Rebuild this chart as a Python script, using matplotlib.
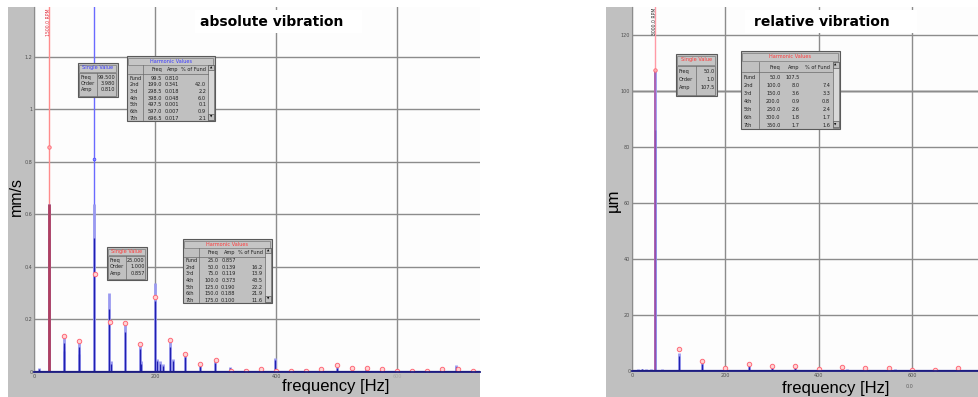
import matplotlib.pyplot as plt
from matplotlib.patches import Rectangle
from matplotlib import font_manager as fm

# ---- data ----
# absolute vibration (mm/s)
abs_peak_freq = [9, 25, 49, 50, 74, 75, 99.5, 124.5, 127, 150, 174.5, 177, 199.5, 203, 208,
                 213, 224.5, 229, 249.5, 274, 299, 324, 348, 398, 448, 500, 525, 548, 600, 674, 697]
abs_peak_amp = [0.015, 0.64, 0.14, 0.10, 0.12, 0.085, 0.64, 0.30, 0.04, 0.19, 0.11, 0.04, 0.34, 0.05,
                0.04, 0.03, 0.12, 0.05, 0.07, 0.03, 0.045, 0.02, 0.01, 0.055, 0.01, 0.02, 0.01, 0.015,
                0.005, 0.01, 0.025]
abs_harm_freq = [50, 75, 100, 125, 150, 175, 200, 225, 250, 275, 300, 325, 350, 375, 400, 425,
                 450, 475, 500, 525, 550, 575, 600, 625, 650, 675, 700, 725]
abs_harm_amp = [0.139, 0.119, 0.373, 0.190, 0.188, 0.107, 0.286, 0.12, 0.07, 0.03, 0.045, 0.005,
                0.005, 0.01, 0.002, 0.002, 0.002, 0.01, 0.027, 0.015, 0.015, 0.01, 0.005, 0.003,
                0.003, 0.01, 0.01, 0.005]
abs_cursor_red = 25.0
abs_cursor_red_amp = 0.857
abs_cursor_blue = 99.5
abs_cursor_blue_amp = 0.810

# relative vibration (um)
rel_peak_freq = [12, 21, 30, 40, 50, 64, 72, 100, 150, 200, 250, 300, 350, 400, 450, 462, 500, 563, 600, 700]
rel_peak_amp = [0.6, 0.8, 0.6, 0.6, 107.5, 0.6, 0.5, 6.5, 3.0, 1.0, 2.5, 2.0, 1.6, 0.6, 1.2, 0.6, 0.8,
                0.6, 0.3, 0.8]
rel_harm_freq = [100, 150, 200, 250, 300, 350, 400, 450, 500, 550, 600, 650, 700]
rel_harm_amp = [8.0, 3.6, 0.9, 2.6, 1.8, 1.7, 0.7, 1.5, 1.1, 1.1, 0.4, 0.5, 1.0]
rel_cursor = 50.0
rel_cursor_amp = 107.5

# readout windows
single_labels = ["Freq", "Order", "Amp"]
abs_single_blue = ["99.500", "3.980", "0.810"]
abs_single_red = ["25.000", "1.000", "0.857"]
rel_single = ["50.0", "1.0", "107.5"]

harm_rows = ["Fund", "2nd", "3rd", "4th", "5th", "6th", "7th"]
abs_blue_hfreq = ["99.5", "199.0", "298.5", "398.0", "497.5", "597.0", "696.5"]
abs_blue_hamp = ["0.810", "0.341", "0.018", "0.048", "0.001", "0.007", "0.017"]
abs_blue_hpct = ["", "42.0", "2.2", "6.0", "0.1", "0.9", "2.1"]
abs_red_hfreq = ["25.0", "50.0", "75.0", "100.0", "125.0", "150.0", "175.0"]
abs_red_hamp = ["0.857", "0.139", "0.119", "0.373", "0.190", "0.188", "0.100"]
abs_red_hpct = ["", "16.2", "13.9", "43.5", "22.2", "21.9", "11.6"]
rel_hfreq = ["50.0", "100.0", "150.0", "200.0", "250.0", "300.0", "350.0"]
rel_hamp = ["107.5", "8.0", "3.6", "0.9", "2.6", "1.8", "1.7"]
rel_hpct = ["", "7.4", "3.3", "0.8", "2.4", "1.7", "1.6"]

freq_ticks = [0, 200, 400, 600]
abs_yticks = [0, 0.2, 0.4, 0.6, 0.8, 1.0, 1.2]
abs_ylabels = ["0", "0.2", "0.4", "0.6", "0.8", "1", "1.2"]
rel_yticks = [0, 20, 40, 60, 80, 100, 120]
rel_ylabels = ["0", "20", "40", "60", "80", "100", "120"]

names = {f.name for f in fm.fontManager.ttflist}
narrow = "Liberation Sans Narrow" if "Liberation Sans Narrow" in names else "DejaVu Sans"
arial = "Liberation Sans" if "Liberation Sans" in names else "DejaVu Sans"

W, H = 979, 397
fig = plt.figure(figsize=(W / 100, H / 100), dpi=100)


def frac(x0, y0, x1, y1):
    return [x0 / W, 1 - y1 / H, (x1 - x0) / W, (y1 - y0) / H]


# gray window frames behind the plots
bg = fig.add_axes([0, 0, 1, 1], zorder=0)
bg.set_xlim(0, W)
bg.set_ylim(H, 0)
bg.axis("off")
bg.add_patch(Rectangle((8, 7), 472, 390, fc="#c0c0c0", ec="none"))
bg.add_patch(Rectangle((606, 7), 373, 390, fc="#c0c0c0", ec="none"))

ax1 = fig.add_axes(frac(34, 7, 480, 372), zorder=1)
ax2 = fig.add_axes(frac(632, 7, 979, 371), zorder=1)


def style(ax, xmax, ymax, yticks, ylabels):
    ax.set_facecolor("#fdfdfd")
    ax.set_xlim(0, xmax)
    ax.set_ylim(0, ymax)
    ax.set_xticks(freq_ticks, [str(t) for t in freq_ticks])
    ax.set_yticks(yticks, ylabels)
    ax.grid(True, color="#8c8c8c", lw=1.0)
    ax.set_axisbelow(True)
    ax.tick_params(length=0, labelsize=3.5, labelcolor="#505050", pad=1.2)
    ax.spines["top"].set_visible(False)
    ax.spines["right"].set_visible(False)
    ax.spines["left"].set_color("#8c8c8c")
    ax.spines["bottom"].set_color("#1c1c80")
    ax.spines["bottom"].set_linewidth(1.3)


style(ax1, 737, 1.39, abs_yticks, abs_ylabels)
style(ax2, 744, 130, rel_yticks, rel_ylabels)
ax1.get_xticklabels()[3].set_color("#a8a8a8")
ax2.axhline(100, color="#202020", lw=1.0, zorder=0.5)

# absolute spectrum
ax1.axvline(abs_cursor_red, color="#ff8c8c", lw=1.0)
ax1.axvline(abs_cursor_blue, color="#6a6aff", lw=1.0)
ax1.vlines(abs_peak_freq, 0, abs_peak_amp, color="#9a9af0", lw=2.0)
ax1.vlines(abs_peak_freq, 0, [a * 0.8 for a in abs_peak_amp], color="#2020b0", lw=0.9)
ax1.vlines([abs_cursor_red], 0, [abs_peak_amp[1]], color="#b04060", lw=2.0)
ax1.axhline(0.004, color="#2a2a90", lw=0.9)
ax1.plot(abs_harm_freq, abs_harm_amp, "o", ms=3.2, mfc="#ffd4d4", mec="#ff6a78", mew=0.7)
ax1.plot([abs_cursor_red], [abs_cursor_red_amp], "o", ms=2.5, mfc="#ffb0b0", mec="#ff6a78", mew=0.6)
ax1.plot([abs_cursor_blue], [abs_cursor_blue_amp], "o", ms=2.0, mfc="#9090ff", mec="#4040ff", mew=0.5)

# relative spectrum
ax2.axvline(rel_cursor, color="#ff9aa6", lw=1.0)
ax2.vlines(rel_peak_freq, 0, rel_peak_amp, color="#9a9af0", lw=2.0)
ax2.vlines(rel_peak_freq, 0, [a * 0.8 for a in rel_peak_amp], color="#2020b0", lw=0.9)
ax2.vlines([rel_cursor], 0, [rel_cursor_amp], color="#b05aa8", lw=1.2)
ax2.axhline(0.4, color="#2a2a90", lw=0.9)
ax2.plot(rel_harm_freq, rel_harm_amp, "o", ms=3.2, mfc="#ffd4d4", mec="#ff6a78", mew=0.7)
ax2.plot([rel_cursor], [rel_cursor_amp], "o", ms=2.5, mfc="#ffb0b0", mec="#ff6a78", mew=0.6)

# overlay for labels and readout windows, in pixel units
ov = fig.add_axes([0, 0, 1, 1], zorder=5)
ov.set_xlim(0, W)
ov.set_ylim(H, 0)
ov.axis("off")
ov.patch.set_alpha(0)

ov.add_patch(Rectangle((195, 10), 167, 23, fc="white", ec="none"))
ov.add_patch(Rectangle((745, 10), 172, 23, fc="white", ec="none"))
ov.text(272, 22, "absolute vibration", fontsize=10, fontweight="bold", ha="center", va="center")
ov.text(822, 22, "relative vibration", fontsize=10, fontweight="bold", ha="center", va="center")

ov.text(16, 196, "mm/s", family=arial, fontsize=11.5, rotation=90, ha="center", va="center")
ov.text(613, 200, "µm", family=arial, fontsize=12, rotation=90, ha="center", va="center")
ov.text(336, 386, "frequency [Hz]", family=arial, fontsize=12, ha="center", va="center")
ov.text(836, 388, "frequency [Hz]", family=arial, fontsize=12, ha="center", va="center")
ov.text(910, 386, "0.0", fontsize=3.5, color="#606060", ha="center", va="center")

ov.text(49, 8, "1500.0 RPM", fontsize=3.3, color="#e03040", rotation=90, ha="center", va="top")
ov.text(655, 8, "3000.0 RPM", fontsize=3.3, color="#303030", rotation=90, ha="center", va="top")

FS = 3.6


def single_box(x, y, w, h, color, values):
    ov.add_patch(Rectangle((x, y), w, h, fc="#c0c0c0", ec="#5a5a5a", lw=0.8))
    tb = 0.25 * h
    ov.add_patch(Rectangle((x + 1.5, y + 1.5), w - 3, tb - 1.5, fc="#c6c6c6", ec="#7a7a7a", lw=0.5))
    ov.text(x + w / 2, y + 0.75 + tb / 2, "Single Value", color=color, fontsize=FS,
            family=narrow, ha="center", va="center")
    ov.add_patch(Rectangle((x + 1.5, y + tb + 1), w - 3, h - tb - 2.5, fc="none", ec="#6a6a6a", lw=0.5))
    ov.plot([x + 0.48 * w] * 2, [y + tb + 1, y + h - 1.5], color="#6a6a6a", lw=0.5)
    for i, (lab, val) in enumerate(zip(single_labels, values)):
        ry = y + (0.42 + 0.185 * i) * h
        ov.text(x + 0.07 * w, ry, lab, fontsize=FS, family=narrow, color="#202020", ha="left", va="center")
        ov.text(x + 0.94 * w, ry, val, fontsize=FS, family=narrow, color="#202020", ha="right", va="center")


def harm_box(x, y, w, h, color, hfreq, hamp, hpct):
    box = Rectangle((x, y), w, h, fc="#c0c0c0", ec="#5a5a5a", lw=0.8)
    ov.add_patch(box)
    tb = 0.125 * h
    ov.add_patch(Rectangle((x + 1.5, y + 1.5), w - 3, tb - 1, fc="#c6c6c6", ec="#7a7a7a", lw=0.5))
    ov.text(x + w / 2, y + 1 + tb / 2, "Harmonic Values", color=color, fontsize=FS,
            family=narrow, ha="center", va="center")
    cols = [0.40, 0.59, 0.90]
    hy = y + 0.215 * h
    for c, lab in zip(cols, ["Freq", "Amp", "% of Fund"]):
        ov.text(x + c * w, hy, lab, fontsize=FS, family=narrow, color="#202020", ha="right", va="center")
    ov.plot([x + 1.5, x + 0.92 * w], [y + 0.275 * h] * 2, color="#6a6a6a", lw=0.5)
    ov.plot([x + 0.18 * w] * 2, [y + tb + 1, y + h - 1], color="#6a6a6a", lw=0.5)
    sx = x + 0.925 * w
    sw = 0.06 * w
    ov.add_patch(Rectangle((sx, y + tb + 1), sw, h - tb - 2.5, fc="#d8d8d8", ec="#6a6a6a", lw=0.5))
    ov.add_patch(Rectangle((sx, y + tb + 1), sw, 0.08 * h, fc="#c0c0c0", ec="#5a5a5a", lw=0.5))
    ov.add_patch(Rectangle((sx, y + h - 1.5 - 0.08 * h), sw, 0.08 * h, fc="#c0c0c0", ec="#5a5a5a", lw=0.5))
    ov.text(sx + sw / 2, y + tb + 1 + 0.04 * h, "▲", fontsize=2.2, ha="center", va="center")
    ov.text(sx + sw / 2, y + h - 1.5 - 0.04 * h, "▼", fontsize=2.2, ha="center", va="center")
    for i, row in enumerate(harm_rows):
        ry = y + (0.34 + 0.103 * i) * h
        items = [(0.03, row, "left")] + [(c, v, "right") for c, v in zip(cols, [hfreq[i], hamp[i], hpct[i]])]
        for c, v, ha in items:
            t = ov.text(x + c * w, ry, v, fontsize=FS, family=narrow, color="#202020", ha=ha, va="center")
            t.set_clip_path(box)


single_box(78, 63, 40, 34, "#3a3aff", abs_single_blue)
harm_box(127, 56, 88, 65, "#3a3aff", abs_blue_hfreq, abs_blue_hamp, abs_blue_hpct)
single_box(107, 247, 40, 33, "#ff3a3a", abs_single_red)
harm_box(183, 239, 89, 64, "#ff3a3a", abs_red_hfreq, abs_red_hamp, abs_red_hpct)
single_box(676, 54, 41, 42, "#ff3a3a", rel_single)
harm_box(741, 51, 99, 78, "#ff3a3a", rel_hfreq, rel_hamp, rel_hpct)

fig.savefig("out.png", dpi=100)
